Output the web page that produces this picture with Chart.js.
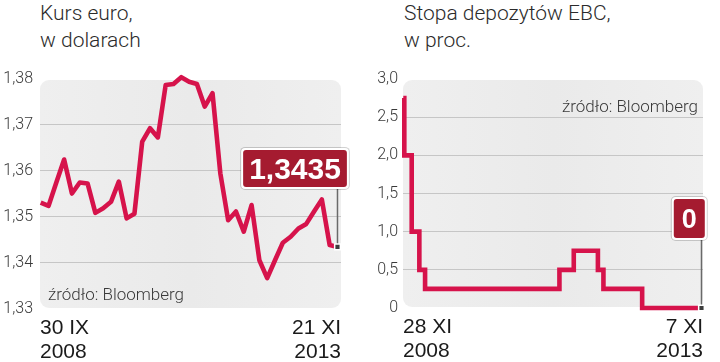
<!DOCTYPE html>
<html><head><meta charset="utf-8">
<script src="https://cdn.jsdelivr.net/npm/chart.js@4/dist/chart.umd.min.js"></script>
<style>
html,body{margin:0;padding:0;background:#fff;}
body{width:720px;height:362px;position:relative;overflow:hidden;}
.title{position:absolute;top:0;font-family:Roboto,"Liberation Sans",sans-serif;font-weight:300;font-size:21px;line-height:27px;color:#2b2b2b;white-space:nowrap;}
.wrap{position:absolute;top:0;width:360px;height:362px;}
</style></head><body>
<div class="title" style="left:40px">Kurs euro,<br>w dolarach</div>
<div class="title" style="left:404px">Stopa depozytów EBC,<br>w proc.</div>
<div class="wrap" style="left:0"><canvas id="c1"></canvas></div>
<div class="wrap" style="left:360px"><canvas id="c2"></canvas></div>
<script>
// ---- data ----
const eurValues = [1.3531,1.3524,1.3575,1.3625,1.3551,1.3575,1.3573,1.3509,1.3519,1.3533,1.3577,1.3497,1.3507,1.3664,1.3693,1.3673,1.3787,1.3789,1.3804,1.3794,1.3789,1.3740,1.3769,1.3595,1.3493,1.3512,1.3468,1.3526,1.3406,1.3367,1.3406,1.3444,1.3457,1.3475,1.3485,1.3512,1.3538,1.3439,1.3435];
const eurTickLabels = [['30 IX','2008'],['21 XI','2013']];
const eurCallout = '1,3435';

const rateMonths = [0,0.2,1.67,3.19,4.33,31.05,33.9,38.7,39.8,47.5,59.3];
const rateValues = [2.75,2.0,1.0,0.5,0.25,0.5,0.75,0.5,0.25,0,0];
const rateTickLabels = [['28 XI','2008'],['7 XI','2013']];
const rateCallout = '0';

const sourceText = 'źródło: Bloomberg';

// ---- styling ----
const RED = '#d6134b';
const BOX = '#a51b30';
const LIGHT = 'Roboto, "Liberation Sans", sans-serif';
const LABEL = '"Liberation Sans", Arial, sans-serif';

const deco = {
  id: 'deco',
  beforeDraw(chart, args, o) {
    const {ctx, chartArea: a} = chart;
    ctx.save();
    const g = ctx.createLinearGradient(a.left, 0, a.right, 0);
    g.addColorStop(0, '#efefef'); g.addColorStop(0.5, '#eaeaea'); g.addColorStop(1, '#efefef');
    ctx.fillStyle = g;
    ctx.beginPath();
    ctx.roundRect(a.left, a.top + 1, a.right - a.left, a.bottom - a.top - 2, 9);
    ctx.fill();
    ctx.restore();
  },
  beforeDatasetsDraw(chart, args, o) {
    const {ctx, chartArea: a} = chart;
    ctx.save();
    ctx.font = '300 17px ' + LIGHT;
    ctx.fillStyle = '#3a3a3a';
    ctx.textBaseline = 'alphabetic';
    if (o.srcPos === 'bl') { ctx.textAlign = 'left'; ctx.fillText(o.src, a.left + 8, a.bottom - 9.5); }
    else { ctx.textAlign = 'right'; ctx.fillText(o.src, a.right - 5, a.top + 33); }
    // leader line
    const meta = chart.getDatasetMeta(0);
    const p = meta.data[meta.data.length - 1];
    ctx.strokeStyle = '#6a6a6a'; ctx.lineWidth = 1.5;
    ctx.beginPath(); ctx.moveTo(p.x, p.y); ctx.lineTo(p.x, p.y - o.dy); ctx.stroke();
    ctx.restore();
  },
  afterDatasetsDraw(chart, args, o) {
    const {ctx} = chart;
    const meta = chart.getDatasetMeta(0);
    const p = meta.data[meta.data.length - 1];
    ctx.save();
    ctx.font = 'bold ' + o.fs + 'px ' + LABEL;
    const w = ctx.measureText(o.text).width + 2 * o.padX;
    const right = p.x + o.dx, bottom = p.y - o.dy;
    const left = right - w, top = bottom - o.h;
    ctx.fillStyle = 'rgba(0,0,0,0.18)';
    ctx.beginPath(); ctx.roundRect(left - 3, top - 3, w + 6, o.h + 6, 5); ctx.fill();
    ctx.fillStyle = '#ffffff';
    ctx.beginPath(); ctx.roundRect(left - 2, top - 2, w + 4, o.h + 4, 4); ctx.fill();
    ctx.fillStyle = BOX;
    ctx.beginPath(); ctx.roundRect(left, top, w, o.h, 3); ctx.fill();
    ctx.fillStyle = '#ffffff';
    ctx.textAlign = 'center'; ctx.textBaseline = 'alphabetic';
    ctx.fillText(o.text, left + w / 2, top + o.h / 2 + o.fs * 0.36);
    ctx.restore();
  }
};

function makeChart(id, pts, ymin, ymax, step, fmt, tickLabels, xmin, xmax, yAxisW, xAxisH, padTop, padRight, tickPad, stepped, decoOpts) {
  const last = pts.length - 1;
  return new Chart(document.getElementById(id), {
    type: 'line',
    data: { datasets: [{
      data: pts,
      borderColor: RED, borderWidth: 4.6,
      borderJoinStyle: stepped ? 'miter' : 'round',
      stepped: stepped,
      tension: 0, clip: false,
      pointStyle: 'rect',
      pointRadius: c => c.dataIndex === last ? 4 : 0,
      pointBackgroundColor: '#3d3d3d', pointBorderColor: '#ffffff', pointBorderWidth: 1.5,
      pointHoverRadius: 0
    }]},
    options: {
      responsive: true, maintainAspectRatio: false, animation: false, devicePixelRatio: 1,
      layout: { padding: { top: padTop, left: 0, right: padRight, bottom: 0 } },
      plugins: { legend: { display: false }, tooltip: { enabled: false }, deco: decoOpts },
      events: [],
      scales: {
        x: {
          type: 'linear', min: xmin, max: xmax,
          grid: { display: false }, border: { display: false },
          afterBuildTicks: s => { s.ticks = [{value: s.min}, {value: s.max}]; },
          afterFit: s => { s.height = xAxisH; },
          ticks: {
            autoSkip: false, maxRotation: 0, align: 'inner', padding: -1,
            color: '#1a1a1a', font: { family: LABEL, size: 21, lineHeight: 1.14 },
            callback: (v, i) => tickLabels[i]
          }
        },
        y: {
          min: ymin, max: ymax,
          border: { display: false },
          grid: { drawTicks: false, lineWidth: 1,
            color: c => (c.index === 0 || c.index === c.scale.ticks.length - 1) ? 'rgba(0,0,0,0)' : '#c6c6c6' },
          afterFit: s => { s.width = yAxisW; },
          ticks: { stepSize: step, padding: tickPad, color: '#3a3a3a',
            font: { family: LIGHT, size: 16, weight: '300' },
            callback: fmt }
        }
      }
    },
    plugins: [deco]
  });
}

const eurPts = eurValues.map((v, i) => ({x: i, y: v}));
makeChart('c1', eurPts, 1.33, 1.38, 0.01, v => v.toFixed(2).replace('.', ','),
  eurTickLabels, -0.09, 38.45, 40, 53, 79, 19, 7, false,
  { src: sourceText, srcPos: 'bl', text: eurCallout, fs: 30, padX: 6, h: 37, dx: 9.4, dy: 60 });

const ratePts = rateMonths.map((m, i) => ({x: m, y: rateValues[i]}));
makeChart('c2', ratePts, 0, 3, 0.5, v => v === 0 ? '0' : v.toFixed(1).replace('.', ','),
  rateTickLabels, -0.06, 59.6, 43, 54, 79, 17, 5, true,
  { src: sourceText, srcPos: 'tr', text: rateCallout, fs: 27, padX: 8, h: 39, dx: 3.3, dy: 70 });
</script>
</body></html>
